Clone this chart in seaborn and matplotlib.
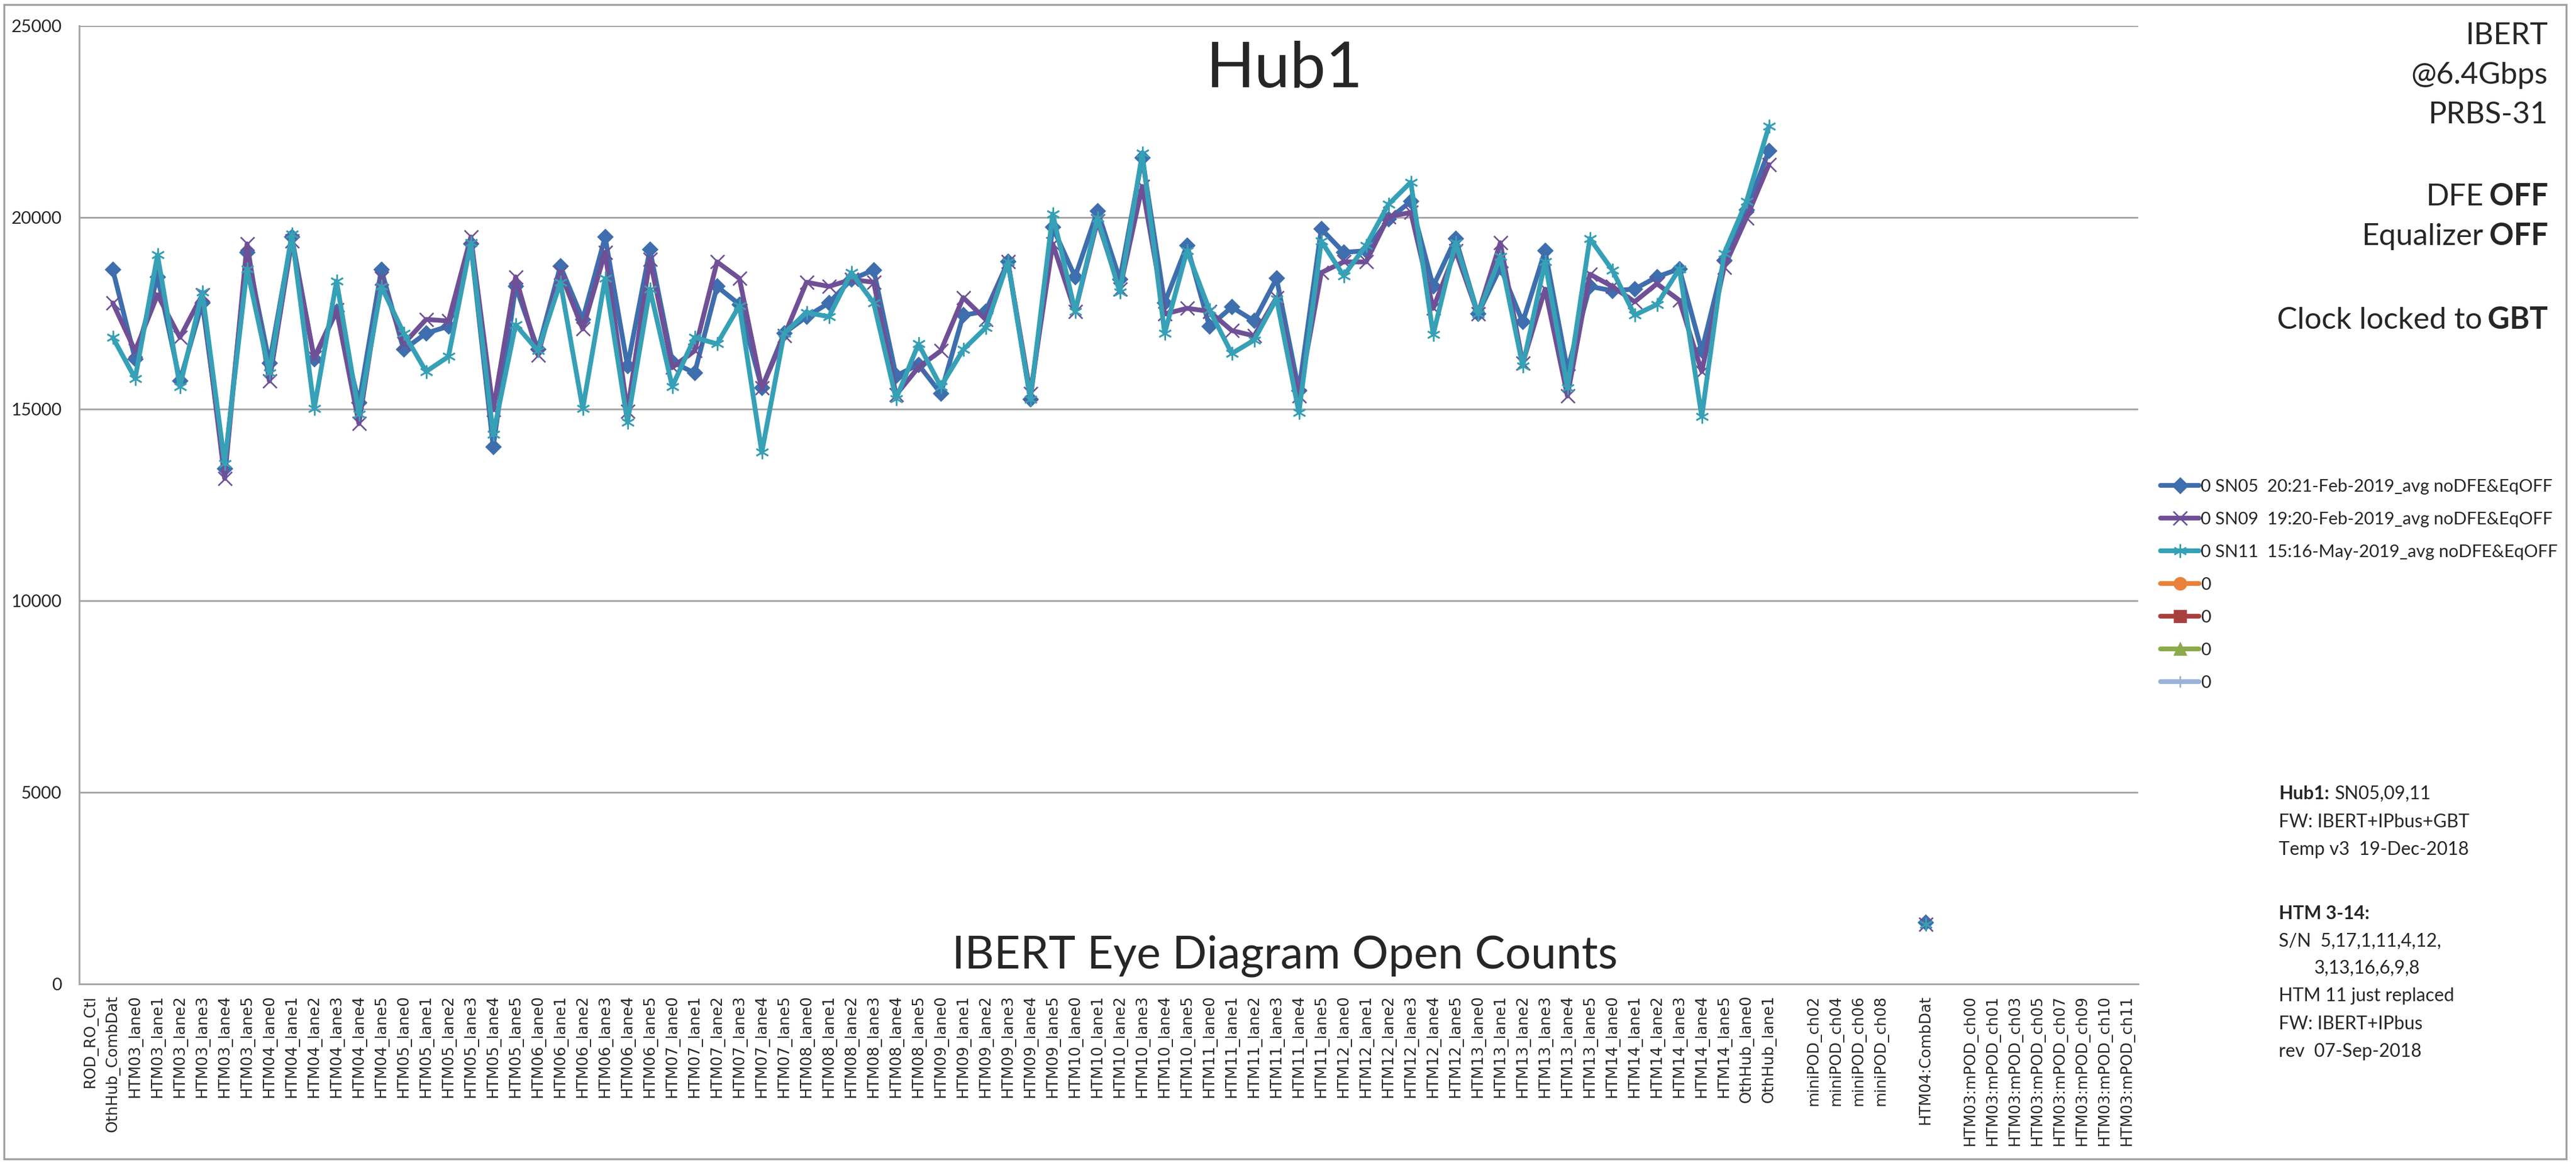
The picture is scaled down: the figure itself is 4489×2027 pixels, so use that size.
import numpy as np
import pandas as pd
import matplotlib.pyplot as plt
from matplotlib.lines import Line2D
from matplotlib.patches import Rectangle
import seaborn as sns

# canvas size in pixels (dpi 100)
W, H = 4489, 2027

# category axis (blank strings are empty slots on the axis)
lanes = [f'HTM{m:02d}_lane{l}' for m in range(3, 15) for l in range(6)]
categories = (['ROD_RO_Ctl', 'OthHub_CombDat'] + lanes +
              ['OthHub_lane0', 'OthHub_lane1', '',
               'miniPOD_ch02', 'miniPOD_ch04', 'miniPOD_ch06', 'miniPOD_ch08', '',
               'HTM04:CombDat', '',
               'HTM03:mPOD_ch00', 'HTM03:mPOD_ch01', 'HTM03:mPOD_ch03', 'HTM03:mPOD_ch05',
               'HTM03:mPOD_ch07', 'HTM03:mPOD_ch09', 'HTM03:mPOD_ch10', 'HTM03:mPOD_ch11'])

# open counts, OthHub_CombDat ... OthHub_lane1
sn05 = [18640, 16300, 18450, 15730, 17770, 13440, 19090, 16200, 19490, 16300,
        17550, 15160, 18640, 16550, 16980, 17160, 19310, 14010, 18200, 16550,
        18730, 17340, 19490, 16120, 19160, 16230, 15940, 18200, 17730, 15550,
        16980, 17410, 17770, 18380, 18630, 15870, 16160, 15410, 17450, 17550,
        18840, 15260, 19740, 18450, 20170, 18380, 21560, 17770, 19270, 17160,
        17660, 17300, 18410, 15480, 19700, 19090, 19130, 19950, 20420, 18200,
        19450, 17480, 18700, 17270, 19130, 16020, 18200, 18090, 18130, 18450,
        18660, 16520, 18880, 20200, 21740]
sn09 = [17770, 16520, 17980, 16870, 17980, 13190, 19310, 15730, 19380, 16340,
        17590, 14620, 18410, 16700, 17340, 17300, 19490, 14980, 18450, 16410,
        18560, 17090, 19090, 14940, 18910, 16090, 16520, 18840, 18410, 15550,
        16910, 18310, 18200, 18380, 18310, 15370, 16090, 16520, 17910, 17340,
        18840, 15400, 19310, 17550, 19910, 18130, 20810, 17480, 17630, 17550,
        17050, 16910, 17910, 15340, 18560, 18840, 18840, 20020, 20130, 17630,
        19130, 17480, 19340, 16200, 18130, 15340, 18520, 18200, 17800, 18270,
        17840, 15980, 18700, 19990, 21380]
sn11 = [16870, 15800, 19020, 15590, 18050, 13580, 18660, 15940, 19560, 15010,
        18340, 14870, 18200, 16980, 15980, 16370, 19340, 14340, 17200, 16520,
        18310, 15010, 18410, 14660, 18130, 15590, 16870, 16700, 17700, 13870,
        16980, 17520, 17410, 18560, 17770, 15270, 16700, 15590, 16550, 17120,
        18840, 15260, 20090, 17550, 19990, 18050, 21670, 16980, 19130, 17590,
        16450, 16800, 17880, 14910, 19380, 18480, 19270, 20340, 20920, 16950,
        19340, 17480, 18980, 16120, 18840, 15550, 19450, 18630, 17450, 17730,
        18660, 14800, 19060, 20420, 22380]
# HTM04:CombDat
combdat = {'sn05': 1600, 'sn09': 1550, 'sn11': 1560}

series_names = ['0 SN05  20:21-Feb-2019_avg noDFE&EqOFF',
                '0 SN09  19:20-Feb-2019_avg noDFE&EqOFF',
                '0 SN11  15:16-May-2019_avg noDFE&EqOFF']
series_colors = ['#3E6EAD', '#6F5096', '#36A0B6']
series_markers = ['D', 'x', (6, 2, 0)]
empty_colors = ['#E8823A', '#A8403E', '#8BAA4A', '#9AB2D6']
empty_markers = ['o', 's', '^', '|']


def full_row(main, extra):
    vals = [np.nan] * len(categories)
    start = categories.index('OthHub_CombDat')
    vals[start:start + len(main)] = main
    vals[categories.index('HTM04:CombDat')] = extra
    return vals


rows = []
for key, name, main in zip(['sn05', 'sn09', 'sn11'], series_names, [sn05, sn09, sn11]):
    vals = np.array(full_row(main, combdat[key]), dtype=float)
    seg = np.cumsum(np.isnan(vals))
    for i, v in enumerate(vals):
        if not np.isnan(v):
            rows.append({'series': name, 'pos': i, 'value': v, 'segment': seg[i]})
df = pd.DataFrame(rows)

sns.set_style('white')
plt.rcParams['font.family'] = ['Lato', 'DejaVu Sans']

fig = plt.figure(figsize=(W / 100, H / 100), dpi=100)
ax = fig.add_axes([138 / W, 1 - 1715 / H, (3726 - 138) / W, (1715 - 45) / H])

for name, c, m in zip(series_names, series_colors, series_markers):
    sub = df[df['series'] == name]
    filled = m == 'D'
    sns.lineplot(data=sub, x='pos', y='value', units='segment', estimator=None,
                 sort=False, color=c, marker=m, markersize=13 if filled else 17,
                 markeredgecolor=c, markeredgewidth=1.5 if filled else 2,
                 linewidth=6, legend=False, ax=ax)

ax.set_xlim(-0.5, len(categories) - 0.5)
ax.set_ylim(0, 25000)
ax.set_yticks(range(0, 25001, 5000))
ax.yaxis.grid(True, color='#A6A6A6', lw=2.2)
ax.set_axisbelow(True)
ax.set_xlabel('')
ax.set_ylabel('')
for s in ['top', 'right']:
    ax.spines[s].set_visible(False)
for s in ['left', 'bottom']:
    ax.spines[s].set_color('#A6A6A6')
    ax.spines[s].set_linewidth(2.2)

ax.set_xticks(range(len(categories)))
ax.set_xticklabels(categories, rotation=90, fontfamily='DejaVu Sans', fontsize=19)
ax.set_xticks(np.arange(-0.5, len(categories), 1), minor=True)
ax.tick_params(axis='x', which='major', length=0, pad=14)
ax.tick_params(axis='x', which='minor', length=10, width=2, color='#A6A6A6', direction='out')
ax.tick_params(axis='y', length=8, width=2, color='#A6A6A6', direction='out', pad=14, labelsize=22)
ax.set_yticklabels([str(v) for v in range(0, 25001, 5000)])

# chart titles inside the plot
fig.text(2239 / W, 1 - 120 / H, 'Hub1', ha='center', va='center', fontsize=80)
fig.text(2239 / W, 1 - 1666 / H, 'IBERT Eye Diagram Open Counts', ha='center', va='center', fontsize=57)

renderer = fig.canvas.get_renderer()


def right_line(ybase, plain, bold=None, size=38):
    x = 4440
    if bold:
        t = fig.text(x / W, 1 - ybase / H, bold, ha='right', va='baseline',
                     fontsize=size, fontweight='bold')
        x -= t.get_window_extent(renderer).width + 10
    if plain:
        fig.text(x / W, 1 - ybase / H, plain, ha='right', va='baseline', fontsize=size)


right_line(77, 'IBERT')
right_line(146, '@6.4Gbps')
right_line(215, 'PRBS-31')
right_line(358, 'DFE', 'OFF')
right_line(427, 'Equalizer', 'OFF')
right_line(573, 'Clock locked to', 'GBT')


def left_line(ybase, plain, bold=None, x=3971, size=23):
    if bold:
        t = fig.text(x / W, 1 - ybase / H, bold, va='baseline', fontsize=size, fontweight='bold')
        x += t.get_window_extent(renderer).width + 10
    if plain:
        fig.text(x / W, 1 - ybase / H, plain, va='baseline', fontsize=size)


left_line(1393, 'SN05,09,11', 'Hub1:')
left_line(1442, 'FW: IBERT+IPbus+GBT')
left_line(1490, 'Temp v3  19-Dec-2018')
left_line(1602, None, 'HTM 3-14:')
left_line(1650, 'S/N  5,17,1,11,4,12,')
left_line(1697, '3,13,16,6,9,8', x=4033)
left_line(1745, 'HTM 11 just replaced')
left_line(1794, 'FW: IBERT+IPbus')
left_line(1842, 'rev  07-Sep-2018')

# legend (last four series are empty)
handles = [Line2D([], [], color=c, lw=6, marker=m, markersize=13 if m == 'D' else 17,
                  markeredgecolor=c, markeredgewidth=2)
           for c, m in zip(series_colors, series_markers)]
handles += [Line2D([], [], color=c, lw=6, marker=m, markersize=15, markeredgecolor=c,
                   markeredgewidth=2) for c, m in zip(empty_colors, empty_markers)]
labels = series_names + ['0'] * 4
fig.legend(handles, labels, loc='upper left', bbox_to_anchor=(3765 / W, 1 - 834 / H),
           frameon=False, fontsize=22, handlelength=2.2, handletextpad=0.1,
           labelspacing=0.95, borderaxespad=0, borderpad=0)

fig.patches.append(Rectangle((7 / W, 1 - 2020 / H), (4472 - 7) / W, (2020 - 8) / H,
                             transform=fig.transFigure, fill=False, ec='#A0A0A0', lw=2.5))

fig.savefig('out.png', dpi=100, facecolor='white')
